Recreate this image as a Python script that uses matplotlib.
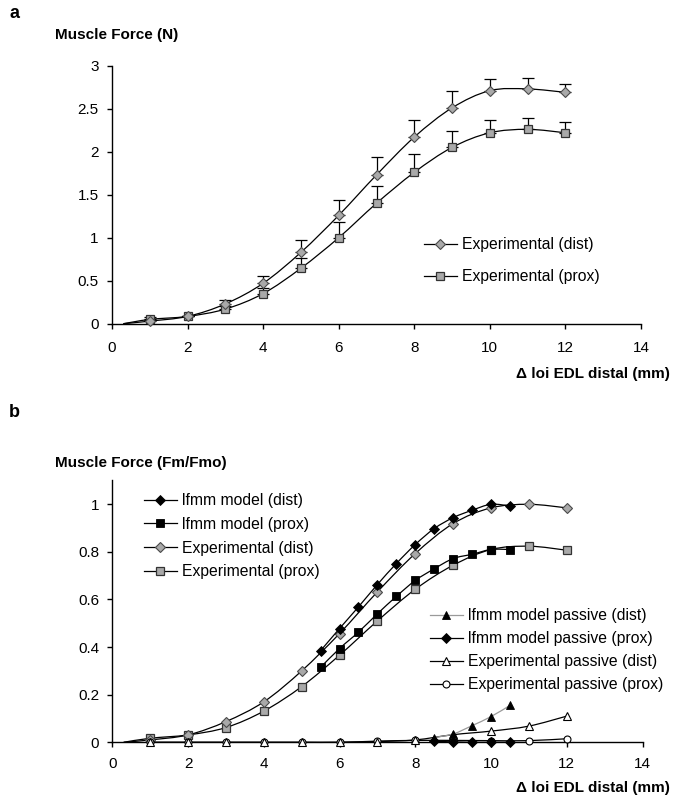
import numpy as np
import matplotlib
matplotlib.use("Agg")
import matplotlib.pyplot as plt
from matplotlib.path import Path
from matplotlib.patches import PathPatch
from matplotlib.lines import Line2D

plt.rcParams['font.family'] = ['Liberation Sans', 'DejaVu Sans']

# ---------------- data: panel a (absolute force, N) ----------------
length_a = [1, 2, 3, 4, 5, 6, 7, 8, 9, 10, 11, 12]
force_dist = [0.03, 0.085, 0.23, 0.47, 0.83, 1.26, 1.73, 2.17, 2.51, 2.71, 2.73, 2.69]
force_prox = [0.05, 0.085, 0.17, 0.35, 0.645, 1.0, 1.40, 1.76, 2.05, 2.22, 2.26, 2.22]
sd_dist = [0.01, 0.01, 0.04, 0.085, 0.14, 0.18, 0.21, 0.20, 0.19, 0.13, 0.13, 0.10]
sd_prox = [0.03, 0.01, 0.04, 0.07, 0.12, 0.18, 0.20, 0.21, 0.19, 0.15, 0.13, 0.12]
curve_start = 0.3  # smoothed experimental lines begin here at zero force

# ---------------- data: panel b (normalised force, Fm/Fmo) ----------------
model_len = [5.5, 6.0, 6.5, 7.0, 7.5, 8.0, 8.5, 9.0, 9.5, 10.0, 10.5]
model_dist = [0.385, 0.478, 0.569, 0.663, 0.751, 0.831, 0.898, 0.944, 0.975, 1.0, 0.993]
model_prox = [0.315, 0.394, 0.463, 0.54, 0.613, 0.68, 0.729, 0.772, 0.79, 0.81, 0.81]

exp_len = [1, 2, 3, 4, 5, 6, 7, 8, 9, 10, 11, 12]
exp_dist = [0.01, 0.031, 0.087, 0.17, 0.30, 0.457, 0.632, 0.793, 0.919, 0.985, 1.0, 0.985]
exp_prox = [0.017, 0.031, 0.062, 0.131, 0.234, 0.366, 0.51, 0.643, 0.744, 0.81, 0.824, 0.807]

passive_model_len = [8.5, 9.0, 9.5, 10.0, 10.5]
passive_model_dist = [0.02, 0.035, 0.07, 0.108, 0.155]
passive_model_prox = [0.004, 0.002, 0.0, 0.0, 0.0]

exp_passive_dist = [0, 0, 0, 0, 0, 0, 0.003, 0.01, 0.032, 0.047, 0.068, 0.11]
exp_passive_prox = [0, 0, 0, 0, 0, 0, 0.005, 0.008, 0.008, 0.007, 0.007, 0.015]

x_ticks = [0, 2, 4, 6, 8, 10, 12, 14]
yticks_a = [0, 0.5, 1, 1.5, 2, 2.5, 3]
ytick_labels_a = ['0', '0.5', '1', '1.5', '2', '2.5', '3']
yticks_b = [0, 0.2, 0.4, 0.6, 0.8, 1.0]
ytick_labels_b = ['0', '0.2', '0.4', '0.6', '0.8', '1']

GRAY_FILL = '#a9a9a9'
GRAY_EDGE = '#4a4a4a'
FS = 11
FS_LEG = 11.3


def smooth_path(x, y):
    """Bezier path through the points, Excel-style smoothing."""
    pts = np.column_stack([x, y]).astype(float)
    n = len(pts)
    verts = [pts[0]]
    codes = [Path.MOVETO]
    for i in range(n - 1):
        p0 = pts[i - 1] if i > 0 else pts[i]
        p1 = pts[i]
        p2 = pts[i + 1]
        p3 = pts[i + 2] if i + 2 < n else pts[i + 1]
        verts += [p1 + (p2 - p0) / 6.0, p2 - (p3 - p1) / 6.0, p2]
        codes += [Path.CURVE4] * 3
    return Path(verts, codes)


def series(ax, x, y, start=None, color='black', lw=0.9, z=2, **mk):
    """Smoothed line through the points (optionally from a zero start) plus markers."""
    lx, ly = list(x), list(y)
    if start is not None:
        lx, ly = [start] + lx, [0.0] + ly
    ax.add_patch(PathPatch(smooth_path(lx, ly), fill=False, edgecolor=color,
                           lw=lw, zorder=z, clip_on=False))
    if mk:
        ax.plot(x, y, linestyle='none', zorder=z + 0.5, clip_on=False, **mk)


def style_axes(ax, ymax, yticks, ylabels, xpad):
    ax.set_xlim(0, 14)
    ax.set_ylim(0, ymax)
    ax.set_xticks(x_ticks)
    ax.set_xticklabels([str(v) for v in x_ticks])
    ax.set_yticks(yticks)
    ax.set_yticklabels(ylabels)
    for s in ('top', 'right'):
        ax.spines[s].set_visible(False)
    for s in ('left', 'bottom'):
        ax.spines[s].set_linewidth(1.0)
        ax.spines[s].set_color('black')
    ax.tick_params(axis='both', direction='out', length=3.5, width=1.0,
                   labelsize=FS, colors='black')
    ax.tick_params(axis='y', pad=6)
    ax.tick_params(axis='x', pad=xpad)
    ax.patch.set_alpha(0)


W, H = 679, 805
fig = plt.figure(figsize=(W / 100, H / 100), dpi=100)


def fx(px):
    return px / W


def fy(py):
    return 1 - py / H


# ---------------- panel a ----------------
ax_a = fig.add_axes([fx(112), fy(323.7), (641 - 112) / W, 258 / H])
style_axes(ax_a, 3, yticks_a, ytick_labels_a, xpad=9)

ax_a.errorbar(length_a, force_dist, yerr=[np.zeros(len(sd_dist)), sd_dist],
              fmt='none', ecolor='black', elinewidth=0.9, capsize=4, capthick=0.9, zorder=1)
ax_a.errorbar(length_a, force_prox, yerr=[np.zeros(len(sd_prox)), sd_prox],
              fmt='none', ecolor='black', elinewidth=0.9, capsize=4, capthick=0.9, zorder=1)

mk_gdiam = dict(marker='D', markersize=5.2, markerfacecolor=GRAY_FILL, markeredgecolor=GRAY_EDGE, markeredgewidth=0.8)
mk_gsq = dict(marker='s', markersize=5.5, markerfacecolor=GRAY_FILL, markeredgecolor='#333333', markeredgewidth=0.9)

series(ax_a, length_a, force_prox, start=curve_start, z=2, **mk_gsq)
series(ax_a, length_a, force_dist, start=curve_start, z=3, **mk_gdiam)

h_a = [Line2D([], [], color='black', lw=0.9, **mk_gdiam),
       Line2D([], [], color='black', lw=0.9, **mk_gsq)]
fig.legend(h_a, ['Experimental (dist)', 'Experimental (prox)'],
           loc='upper left', bbox_to_anchor=(fx(424), fy(237)), bbox_transform=fig.transFigure,
           frameon=False, fontsize=FS_LEG, handlelength=2.1, handletextpad=0.3,
           labelspacing=1.1, borderpad=0, borderaxespad=0)

fig.text(fx(9), fy(13), 'a', fontsize=13, fontweight='bold', va='center', ha='left')
fig.text(fx(55), fy(35), 'Muscle Force (N)', fontsize=FS, fontweight='bold', va='center', ha='left')
fig.text(fx(670), fy(374), '\u0394 loi EDL distal (mm)', fontsize=FS, fontweight='bold',
         va='center', ha='right')

# ---------------- panel b ----------------
ax_b = fig.add_axes([fx(112.3), fy(742.3), (642.5 - 112.3) / W, 261.8 / H])
style_axes(ax_b, 1.1, yticks_b, ytick_labels_b, xpad=7)

mk_bdiam = dict(marker='D', markersize=4.6, markerfacecolor='black', markeredgecolor='black', markeredgewidth=0.6)
mk_bsq = dict(marker='s', markersize=5.6, markerfacecolor='black', markeredgecolor='black', markeredgewidth=0.6)
mk_btri = dict(marker='^', markersize=6.2, markerfacecolor='black', markeredgecolor='black', markeredgewidth=0.6)
mk_otri = dict(marker='^', markersize=6.2, markerfacecolor='white', markeredgecolor='black', markeredgewidth=0.8)
mk_ocirc = dict(marker='o', markersize=5.0, markerfacecolor='white', markeredgecolor='black', markeredgewidth=0.8)

series(ax_b, exp_len, exp_prox, start=curve_start, z=2, **mk_gsq)
series(ax_b, exp_len, exp_dist, start=curve_start, z=2.2, **mk_gdiam)
series(ax_b, model_len, model_prox, z=3, **mk_bsq)
series(ax_b, model_len, model_dist, z=3.2, **mk_bdiam)

series(ax_b, exp_len, exp_passive_prox, z=4, **mk_ocirc)
series(ax_b, exp_len, exp_passive_dist, z=4.2, **mk_otri)
series(ax_b, passive_model_len, passive_model_prox, z=4.4, **mk_bdiam)
series(ax_b, passive_model_len, passive_model_dist, color='#9a9a9a', z=4.6, **mk_btri)

h_b1 = [Line2D([], [], color='black', lw=0.9, **mk_bdiam),
        Line2D([], [], color='black', lw=0.9, **mk_bsq),
        Line2D([], [], color='black', lw=0.9, **mk_gdiam),
        Line2D([], [], color='black', lw=0.9, **mk_gsq)]
fig.legend(h_b1, ['lfmm model (dist)', 'lfmm model (prox)', 'Experimental (dist)', 'Experimental (prox)'],
           loc='upper left', bbox_to_anchor=(fx(144), fy(493)), bbox_transform=fig.transFigure,
           frameon=False, fontsize=FS_LEG, handlelength=2.1, handletextpad=0.3,
           labelspacing=0.56, borderpad=0, borderaxespad=0)

h_b2 = [Line2D([], [], color='#9a9a9a', lw=0.9, **mk_btri),
        Line2D([], [], color='black', lw=0.9, **mk_bdiam),
        Line2D([], [], color='black', lw=0.9, **mk_otri),
        Line2D([], [], color='black', lw=0.9, **mk_ocirc)]
fig.legend(h_b2, ['lfmm model passive (dist)', 'lfmm model passive (prox)',
                  'Experimental passive (dist)', 'Experimental passive (prox)'],
           loc='upper left', bbox_to_anchor=(fx(430), fy(608)), bbox_transform=fig.transFigure,
           frameon=False, fontsize=FS_LEG, handlelength=2.1, handletextpad=0.3,
           labelspacing=0.52, borderpad=0, borderaxespad=0)

fig.text(fx(9), fy(412), 'b', fontsize=13, fontweight='bold', va='center', ha='left')
fig.text(fx(55), fy(463), 'Muscle Force (Fm/Fmo)', fontsize=FS, fontweight='bold', va='center', ha='left')
fig.text(fx(670), fy(788), '\u0394 loi EDL distal (mm)', fontsize=FS, fontweight='bold',
         va='center', ha='right')

fig.savefig('out.png', dpi=100, facecolor='white')
